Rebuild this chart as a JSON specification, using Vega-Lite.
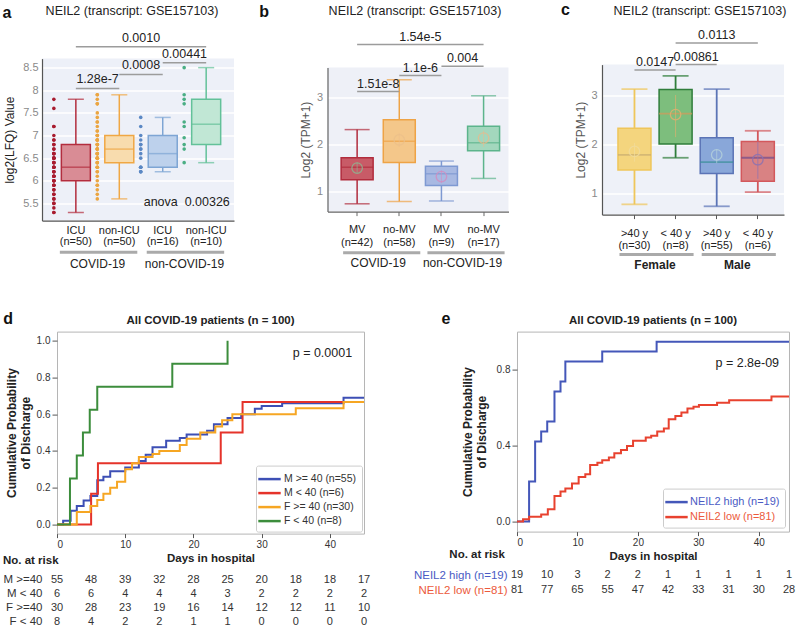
{
"$schema": "https://vega.github.io/schema/vega-lite/v6.json",
"padding": {"left": 2, "top": 1.6, "right": 0, "bottom": 0},
"config": {"font": "Liberation Sans", "view": {"stroke": null}},
"datasets": {
 "a_box": [
  {"cat": "ICU (n=50)", "min": 5.3, "q1": 6.0, "med": 6.3, "q3": 6.8, "max": 7.8},
  {"cat": "non-ICU (n=50)", "min": 5.6, "q1": 6.4, "med": 6.7, "q3": 7.0, "max": 7.9},
  {"cat": "ICU (n=16)", "min": 6.2, "q1": 6.3, "med": 6.6, "q3": 7.0, "max": 7.4},
  {"cat": "non-ICU (n=10)", "min": 6.4, "q1": 6.8, "med": 7.25, "q3": 7.8, "max": 8.5}
 ],
 "a_pts": [
  {"cat":"ICU (n=50)","v":7.8},{"cat":"ICU (n=50)","v":7.6},{"cat":"ICU (n=50)","v":7.2},{"cat":"ICU (n=50)","v":7.2},{"cat":"ICU (n=50)","v":7.0},{"cat":"ICU (n=50)","v":6.9},{"cat":"ICU (n=50)","v":6.9},{"cat":"ICU (n=50)","v":6.8},{"cat":"ICU (n=50)","v":6.8},{"cat":"ICU (n=50)","v":6.7},
  {"cat":"ICU (n=50)","v":6.7},{"cat":"ICU (n=50)","v":6.6},{"cat":"ICU (n=50)","v":6.6},{"cat":"ICU (n=50)","v":6.6},{"cat":"ICU (n=50)","v":6.5},{"cat":"ICU (n=50)","v":6.5},{"cat":"ICU (n=50)","v":6.5},{"cat":"ICU (n=50)","v":6.4},{"cat":"ICU (n=50)","v":6.4},{"cat":"ICU (n=50)","v":6.4},
  {"cat":"ICU (n=50)","v":6.3},{"cat":"ICU (n=50)","v":6.3},{"cat":"ICU (n=50)","v":6.3},{"cat":"ICU (n=50)","v":6.3},{"cat":"ICU (n=50)","v":6.2},{"cat":"ICU (n=50)","v":6.2},{"cat":"ICU (n=50)","v":6.2},{"cat":"ICU (n=50)","v":6.1},{"cat":"ICU (n=50)","v":6.1},{"cat":"ICU (n=50)","v":6.1},
  {"cat":"ICU (n=50)","v":6.1},{"cat":"ICU (n=50)","v":6.0},{"cat":"ICU (n=50)","v":6.0},{"cat":"ICU (n=50)","v":6.0},{"cat":"ICU (n=50)","v":6.0},{"cat":"ICU (n=50)","v":5.9},{"cat":"ICU (n=50)","v":5.9},{"cat":"ICU (n=50)","v":5.9},{"cat":"ICU (n=50)","v":5.8},{"cat":"ICU (n=50)","v":5.8},
  {"cat":"ICU (n=50)","v":5.7},{"cat":"ICU (n=50)","v":5.7},{"cat":"ICU (n=50)","v":5.6},{"cat":"ICU (n=50)","v":5.6},{"cat":"ICU (n=50)","v":5.5},{"cat":"ICU (n=50)","v":5.5},{"cat":"ICU (n=50)","v":5.4},{"cat":"ICU (n=50)","v":5.3},{"cat":"ICU (n=50)","v":5.3},{"cat":"ICU (n=50)","v":6.5},
  {"cat":"non-ICU (n=50)","v":7.9},{"cat":"non-ICU (n=50)","v":7.9},{"cat":"non-ICU (n=50)","v":7.8},{"cat":"non-ICU (n=50)","v":7.7},{"cat":"non-ICU (n=50)","v":7.7},{"cat":"non-ICU (n=50)","v":7.5},{"cat":"non-ICU (n=50)","v":7.4},{"cat":"non-ICU (n=50)","v":7.3},{"cat":"non-ICU (n=50)","v":7.2},{"cat":"non-ICU (n=50)","v":7.1},
  {"cat":"non-ICU (n=50)","v":7.0},{"cat":"non-ICU (n=50)","v":7.0},{"cat":"non-ICU (n=50)","v":7.0},{"cat":"non-ICU (n=50)","v":6.9},{"cat":"non-ICU (n=50)","v":6.9},{"cat":"non-ICU (n=50)","v":6.9},{"cat":"non-ICU (n=50)","v":6.8},{"cat":"non-ICU (n=50)","v":6.8},{"cat":"non-ICU (n=50)","v":6.8},{"cat":"non-ICU (n=50)","v":6.7},
  {"cat":"non-ICU (n=50)","v":6.7},{"cat":"non-ICU (n=50)","v":6.7},{"cat":"non-ICU (n=50)","v":6.7},{"cat":"non-ICU (n=50)","v":6.6},{"cat":"non-ICU (n=50)","v":6.6},{"cat":"non-ICU (n=50)","v":6.6},{"cat":"non-ICU (n=50)","v":6.6},{"cat":"non-ICU (n=50)","v":6.5},{"cat":"non-ICU (n=50)","v":6.5},{"cat":"non-ICU (n=50)","v":6.5},
  {"cat":"non-ICU (n=50)","v":6.4},{"cat":"non-ICU (n=50)","v":6.4},{"cat":"non-ICU (n=50)","v":6.4},{"cat":"non-ICU (n=50)","v":6.3},{"cat":"non-ICU (n=50)","v":6.3},{"cat":"non-ICU (n=50)","v":6.2},{"cat":"non-ICU (n=50)","v":6.2},{"cat":"non-ICU (n=50)","v":6.1},{"cat":"non-ICU (n=50)","v":6.0},{"cat":"non-ICU (n=50)","v":5.9},
  {"cat":"non-ICU (n=50)","v":5.9},{"cat":"non-ICU (n=50)","v":5.8},{"cat":"non-ICU (n=50)","v":5.7},{"cat":"non-ICU (n=50)","v":5.6},{"cat":"non-ICU (n=50)","v":7.1},{"cat":"non-ICU (n=50)","v":7.3},{"cat":"non-ICU (n=50)","v":6.8},{"cat":"non-ICU (n=50)","v":6.5},{"cat":"non-ICU (n=50)","v":6.3},{"cat":"non-ICU (n=50)","v":6.9},
  {"cat":"ICU (n=16)","v":7.4},{"cat":"ICU (n=16)","v":7.2},{"cat":"ICU (n=16)","v":7.0},{"cat":"ICU (n=16)","v":6.8},{"cat":"ICU (n=16)","v":6.8},{"cat":"ICU (n=16)","v":6.7},{"cat":"ICU (n=16)","v":6.7},{"cat":"ICU (n=16)","v":6.6},
  {"cat":"ICU (n=16)","v":6.5},{"cat":"ICU (n=16)","v":6.3},{"cat":"ICU (n=16)","v":6.3},{"cat":"ICU (n=16)","v":6.3},{"cat":"ICU (n=16)","v":6.2},{"cat":"ICU (n=16)","v":6.2},{"cat":"ICU (n=16)","v":6.2},{"cat":"ICU (n=16)","v":6.9},
  {"cat":"non-ICU (n=10)","v":8.5},{"cat":"non-ICU (n=10)","v":7.9},{"cat":"non-ICU (n=10)","v":7.8},{"cat":"non-ICU (n=10)","v":7.7},{"cat":"non-ICU (n=10)","v":7.3},
  {"cat":"non-ICU (n=10)","v":7.2},{"cat":"non-ICU (n=10)","v":6.95},{"cat":"non-ICU (n=10)","v":6.8},{"cat":"non-ICU (n=10)","v":6.7},{"cat":"non-ICU (n=10)","v":6.4}
 ],
 "a_sig": [
  {"from": "ICU (n=50)", "to": "non-ICU (n=50)", "at": "ICU (n=50)", "y": 8.04, "p": "1.28e-7"},
  {"from": "non-ICU (n=50)", "to": "ICU (n=16)", "at": "non-ICU (n=50)", "y": 8.35, "p": "0.0008"},
  {"from": "ICU (n=16)", "to": "non-ICU (n=10)", "at": "ICU (n=16)", "y": 8.61, "p": "0.00441"},
  {"from": "ICU (n=50)", "to": "non-ICU (n=10)", "at": "non-ICU (n=50)", "y": 8.96, "p": "0.0010"}
 ],
 "a_grp": [
  {"g": "COVID-19", "from": "ICU (n=50)", "to": "non-ICU (n=50)"},
  {"g": "non-COVID-19", "from": "ICU (n=16)", "to": "non-ICU (n=10)"}
 ],
 "b_box": [
  {"cat": "MV (n=42)", "min": 0.74, "q1": 1.25, "med": 1.52, "q3": 1.72, "max": 2.32, "mean": 1.5, "lo": 1.4, "hi": 1.62},
  {"cat": "no-MV (n=58)", "min": 0.79, "q1": 1.62, "med": 2.07, "q3": 2.53, "max": 3.38, "mean": 2.1, "lo": 1.95, "hi": 2.25},
  {"cat": "MV (n=9)", "min": 0.8, "q1": 1.13, "med": 1.38, "q3": 1.54, "max": 1.65, "mean": 1.32, "lo": 1.18, "hi": 1.45},
  {"cat": "no-MV (n=17)", "min": 1.28, "q1": 1.87, "med": 2.04, "q3": 2.39, "max": 3.04, "mean": 2.14, "lo": 1.95, "hi": 2.3}
 ],
 "b_sig": [
  {"from": "MV (n=42)", "to": "no-MV (n=58)", "at": "MV (n=42)", "y": 3.13, "p": "1.51e-8"},
  {"from": "no-MV (n=58)", "to": "MV (n=9)", "at": "no-MV (n=58)", "y": 3.47, "p": "1.1e-6"},
  {"from": "MV (n=9)", "to": "no-MV (n=17)", "at": "MV (n=9)", "y": 3.67, "p": "0.004"},
  {"from": "MV (n=42)", "to": "no-MV (n=17)", "at": "no-MV (n=58)", "y": 4.13, "p": "1.54e-5"}
 ],
 "b_grp": [
  {"g": "COVID-19", "from": "MV (n=42)", "to": "no-MV (n=58)"},
  {"g": "non-COVID-19", "from": "MV (n=9)", "to": "no-MV (n=17)"}
 ],
 "c_box": [
  {"cat": ">40 y (n=30)", "min": 0.78, "q1": 1.48, "med": 1.79, "q3": 2.33, "max": 3.13, "mean": 1.86, "lo": 1.65, "hi": 2.03},
  {"cat": "< 40 y (n=8)", "min": 1.73, "q1": 2.01, "med": 2.63, "q3": 3.12, "max": 3.4, "mean": 2.61, "lo": 2.15, "hi": 3.01},
  {"cat": ">40 y (n=55)", "min": 0.74, "q1": 1.41, "med": 1.64, "q3": 2.14, "max": 3.13, "mean": 1.79, "lo": 1.62, "hi": 1.9},
  {"cat": "< 40 y (n=6)", "min": 1.03, "q1": 1.25, "med": 1.73, "q3": 2.06, "max": 2.28, "mean": 1.69, "lo": 1.3, "hi": 2.05}
 ],
 "c_sig": [
  {"from": ">40 y (n=30)", "to": "< 40 y (n=8)", "at": ">40 y (n=30)", "y": 3.52, "p": "0.0147", "span": 1},
  {"from": "< 40 y (n=8)", "to": ">40 y (n=55)", "at": "< 40 y (n=8)", "y": 3.63, "p": "0.00861", "span": 1},
  {"from": "< 40 y (n=8)", "to": "< 40 y (n=6)", "at": ">40 y (n=55)", "y": 4.07, "p": "0.0113", "span": 2}
 ],
 "c_grp": [
  {"g": "Female", "from": ">40 y (n=30)", "to": "< 40 y (n=8)"},
  {"g": "Male", "from": ">40 y (n=55)", "to": "< 40 y (n=6)"}
 ],
 "d_km": [
  {"grp":"M >= 40 (n=55)","day":0,"p":0},{"grp":"M >= 40 (n=55)","day":0.9,"p":0.02},{"grp":"M >= 40 (n=55)","day":2,"p":0.075},{"grp":"M >= 40 (n=55)","day":2.9,"p":0.1},{"grp":"M >= 40 (n=55)","day":3.9,"p":0.13},
  {"grp":"M >= 40 (n=55)","day":4.9,"p":0.155},{"grp":"M >= 40 (n=55)","day":5.9,"p":0.24},{"grp":"M >= 40 (n=55)","day":6.8,"p":0.26},{"grp":"M >= 40 (n=55)","day":7.8,"p":0.29},{"grp":"M >= 40 (n=55)","day":10,"p":0.31},
  {"grp":"M >= 40 (n=55)","day":12,"p":0.345},{"grp":"M >= 40 (n=55)","day":13,"p":0.38},{"grp":"M >= 40 (n=55)","day":14,"p":0.42},{"grp":"M >= 40 (n=55)","day":16,"p":0.455},{"grp":"M >= 40 (n=55)","day":18,"p":0.47},
  {"grp":"M >= 40 (n=55)","day":19,"p":0.49},{"grp":"M >= 40 (n=55)","day":22,"p":0.51},{"grp":"M >= 40 (n=55)","day":23,"p":0.545},{"grp":"M >= 40 (n=55)","day":25,"p":0.58},{"grp":"M >= 40 (n=55)","day":27,"p":0.6},
  {"grp":"M >= 40 (n=55)","day":29,"p":0.63},{"grp":"M >= 40 (n=55)","day":30,"p":0.645},{"grp":"M >= 40 (n=55)","day":33,"p":0.66},{"grp":"M >= 40 (n=55)","day":42,"p":0.69},{"grp":"M >= 40 (n=55)","day":45,"p":0.69},
  {"grp":"M < 40 (n=6)","day":0,"p":0},{"grp":"M < 40 (n=6)","day":5,"p":0.167},{"grp":"M < 40 (n=6)","day":6,"p":0.333},{"grp":"M < 40 (n=6)","day":24,"p":0.5},{"grp":"M < 40 (n=6)","day":27.2,"p":0.667},{"grp":"M < 40 (n=6)","day":45,"p":0.667},
  {"grp":"F >= 40 (n=30)","day":0,"p":0},{"grp":"F >= 40 (n=30)","day":2.9,"p":0.067},{"grp":"F >= 40 (n=30)","day":4.9,"p":0.1},{"grp":"F >= 40 (n=30)","day":5.9,"p":0.133},{"grp":"F >= 40 (n=30)","day":6.8,"p":0.167},
  {"grp":"F >= 40 (n=30)","day":7.8,"p":0.2},{"grp":"F >= 40 (n=30)","day":8.8,"p":0.233},{"grp":"F >= 40 (n=30)","day":10,"p":0.3},{"grp":"F >= 40 (n=30)","day":11,"p":0.333},{"grp":"F >= 40 (n=30)","day":12,"p":0.367},
  {"grp":"F >= 40 (n=30)","day":14,"p":0.383},{"grp":"F >= 40 (n=30)","day":15,"p":0.4},{"grp":"F >= 40 (n=30)","day":18,"p":0.433},{"grp":"F >= 40 (n=30)","day":19,"p":0.467},{"grp":"F >= 40 (n=30)","day":21,"p":0.5},
  {"grp":"F >= 40 (n=30)","day":23.2,"p":0.533},{"grp":"F >= 40 (n=30)","day":24.2,"p":0.567},{"grp":"F >= 40 (n=30)","day":25.7,"p":0.6},{"grp":"F >= 40 (n=30)","day":35,"p":0.633},{"grp":"F >= 40 (n=30)","day":42,"p":0.667},{"grp":"F >= 40 (n=30)","day":45,"p":0.667},
  {"grp":"F < 40 (n=8)","day":0,"p":0},{"grp":"F < 40 (n=8)","day":1.9,"p":0.25},{"grp":"F < 40 (n=8)","day":2.9,"p":0.375},{"grp":"F < 40 (n=8)","day":3.8,"p":0.5},{"grp":"F < 40 (n=8)","day":4.8,"p":0.625},
  {"grp":"F < 40 (n=8)","day":5.9,"p":0.75},{"grp":"F < 40 (n=8)","day":16.9,"p":0.875},{"grp":"F < 40 (n=8)","day":25,"p":1.0}
 ],
 "d_risk": [
  {"grp":"M >=40","day":0,"n":55},{"grp":"M >=40","day":5,"n":48},{"grp":"M >=40","day":10,"n":39},{"grp":"M >=40","day":15,"n":32},{"grp":"M >=40","day":20,"n":28},{"grp":"M >=40","day":25,"n":25},{"grp":"M >=40","day":30,"n":20},{"grp":"M >=40","day":35,"n":18},{"grp":"M >=40","day":40,"n":18},{"grp":"M >=40","day":45,"n":17},
  {"grp":"M < 40","day":0,"n":6},{"grp":"M < 40","day":5,"n":6},{"grp":"M < 40","day":10,"n":4},{"grp":"M < 40","day":15,"n":4},{"grp":"M < 40","day":20,"n":4},{"grp":"M < 40","day":25,"n":3},{"grp":"M < 40","day":30,"n":2},{"grp":"M < 40","day":35,"n":2},{"grp":"M < 40","day":40,"n":2},{"grp":"M < 40","day":45,"n":2},
  {"grp":"F >=40","day":0,"n":30},{"grp":"F >=40","day":5,"n":28},{"grp":"F >=40","day":10,"n":23},{"grp":"F >=40","day":15,"n":19},{"grp":"F >=40","day":20,"n":16},{"grp":"F >=40","day":25,"n":14},{"grp":"F >=40","day":30,"n":12},{"grp":"F >=40","day":35,"n":12},{"grp":"F >=40","day":40,"n":11},{"grp":"F >=40","day":45,"n":10},
  {"grp":"F < 40","day":0,"n":8},{"grp":"F < 40","day":5,"n":4},{"grp":"F < 40","day":10,"n":2},{"grp":"F < 40","day":15,"n":2},{"grp":"F < 40","day":20,"n":1},{"grp":"F < 40","day":25,"n":1},{"grp":"F < 40","day":30,"n":0},{"grp":"F < 40","day":35,"n":0},{"grp":"F < 40","day":40,"n":0},{"grp":"F < 40","day":45,"n":0}
 ],
 "e_km": [
  {"grp":"NEIL2 high (n=19)","day":0,"p":0},{"grp":"NEIL2 high (n=19)","day":2,"p":0.211},{"grp":"NEIL2 high (n=19)","day":3,"p":0.421},{"grp":"NEIL2 high (n=19)","day":4,"p":0.474},{"grp":"NEIL2 high (n=19)","day":5,"p":0.526},
  {"grp":"NEIL2 high (n=19)","day":6.2,"p":0.684},{"grp":"NEIL2 high (n=19)","day":7.2,"p":0.737},{"grp":"NEIL2 high (n=19)","day":8,"p":0.842},{"grp":"NEIL2 high (n=19)","day":14.1,"p":0.895},{"grp":"NEIL2 high (n=19)","day":23.1,"p":0.947},{"grp":"NEIL2 high (n=19)","day":45,"p":0.947},
  {"grp":"NEIL2 low (n=81)","day":0,"p":0},{"grp":"NEIL2 low (n=81)","day":1,"p":0.012},{"grp":"NEIL2 low (n=81)","day":2,"p":0.025},{"grp":"NEIL2 low (n=81)","day":4,"p":0.037},{"grp":"NEIL2 low (n=81)","day":5.1,"p":0.065},
  {"grp":"NEIL2 low (n=81)","day":6.2,"p":0.135},{"grp":"NEIL2 low (n=81)","day":7.2,"p":0.158},{"grp":"NEIL2 low (n=81)","day":8,"p":0.174},{"grp":"NEIL2 low (n=81)","day":9.1,"p":0.2},{"grp":"NEIL2 low (n=81)","day":10.2,"p":0.235},
  {"grp":"NEIL2 low (n=81)","day":11.3,"p":0.249},{"grp":"NEIL2 low (n=81)","day":12.1,"p":0.298},{"grp":"NEIL2 low (n=81)","day":13.3,"p":0.31},{"grp":"NEIL2 low (n=81)","day":14.1,"p":0.323},{"grp":"NEIL2 low (n=81)","day":15.2,"p":0.337},
  {"grp":"NEIL2 low (n=81)","day":16.1,"p":0.36},{"grp":"NEIL2 low (n=81)","day":17.2,"p":0.377},{"grp":"NEIL2 low (n=81)","day":18.2,"p":0.398},{"grp":"NEIL2 low (n=81)","day":19.2,"p":0.425},{"grp":"NEIL2 low (n=81)","day":21.3,"p":0.442},
  {"grp":"NEIL2 low (n=81)","day":22.2,"p":0.452},{"grp":"NEIL2 low (n=81)","day":23.2,"p":0.474},{"grp":"NEIL2 low (n=81)","day":24.3,"p":0.49},{"grp":"NEIL2 low (n=81)","day":25.1,"p":0.539},{"grp":"NEIL2 low (n=81)","day":26.2,"p":0.556},
  {"grp":"NEIL2 low (n=81)","day":27.2,"p":0.574},{"grp":"NEIL2 low (n=81)","day":28.2,"p":0.595},{"grp":"NEIL2 low (n=81)","day":29.2,"p":0.604},{"grp":"NEIL2 low (n=81)","day":30.1,"p":0.614},{"grp":"NEIL2 low (n=81)","day":33.1,"p":0.626},
  {"grp":"NEIL2 low (n=81)","day":35.1,"p":0.639},{"grp":"NEIL2 low (n=81)","day":42.1,"p":0.658},{"grp":"NEIL2 low (n=81)","day":45,"p":0.658}
 ],
 "e_risk": [
  {"grp":"NEIL2 high (n=19)","day":0,"n":19},{"grp":"NEIL2 high (n=19)","day":5,"n":10},{"grp":"NEIL2 high (n=19)","day":10,"n":3},{"grp":"NEIL2 high (n=19)","day":15,"n":2},{"grp":"NEIL2 high (n=19)","day":20,"n":2},{"grp":"NEIL2 high (n=19)","day":25,"n":1},{"grp":"NEIL2 high (n=19)","day":30,"n":1},{"grp":"NEIL2 high (n=19)","day":35,"n":1},{"grp":"NEIL2 high (n=19)","day":40,"n":1},{"grp":"NEIL2 high (n=19)","day":45,"n":1},
  {"grp":"NEIL2 low (n=81)","day":0,"n":81},{"grp":"NEIL2 low (n=81)","day":5,"n":77},{"grp":"NEIL2 low (n=81)","day":10,"n":65},{"grp":"NEIL2 low (n=81)","day":15,"n":55},{"grp":"NEIL2 low (n=81)","day":20,"n":47},{"grp":"NEIL2 low (n=81)","day":25,"n":42},{"grp":"NEIL2 low (n=81)","day":30,"n":33},{"grp":"NEIL2 low (n=81)","day":35,"n":31},{"grp":"NEIL2 low (n=81)","day":40,"n":30},{"grp":"NEIL2 low (n=81)","day":45,"n":28}
 ]
},
"bounds": "full",
"spacing": 38,
"resolve": {"scale": {"color": "independent", "fill": "independent", "stroke": "independent"}},
"vconcat": [
 {"bounds": "flush", "center": true, "spacing": 93.5,
  "resolve": {"scale": {"color": "independent", "fill": "independent", "stroke": "independent"}},
  "hconcat": [
   {
    "width": 192, "height": 162,
    "view": {"fill": "#edf0f8", "stroke": null},
    "title": {"text": "NEIL2 (transcript: GSE157103)", "fontSize": 12.5, "fontWeight": "normal", "color": "#222", "frame": "group", "offset": -12.7, "dx": -6},
    "resolve": {"scale": {"color": "independent"}},
    "layer": [
     {"data": {"name": "a_box"}, "mark": {"type": "rule", "strokeWidth": 1.5},
      "encoding": {
       "x": {"field": "cat", "type": "nominal", "sort": null, "scale": {"domain": ["ICU (n=50)","non-ICU (n=50)","ICU (n=16)","non-ICU (n=10)"], "paddingInner": 0, "paddingOuter": 0.21, "align": 0.665},
             "axis": {"title": null, "labelAngle": 0, "ticks": false, "domainColor": "#555", "domainWidth": 1.2, "labelFontSize": 11, "labelColor": "#222", "labelPadding": 4, "labelLineHeight": 11, "labelExpr": "[slice(datum.label, 0, indexof(datum.label, ' (')), slice(datum.label, indexof(datum.label, ' (') + 1)]"}},
       "y": {"field": "min", "type": "quantitative", "scale": {"domain": [5.12, 8.7], "nice": false, "zero": false},
             "axis": {"title": "log2(LFQ) Value", "values": [5.5,6,6.5,7,7.5,8,8.5], "labelExpr": "replace(format(datum.value, '.1f'), '.0', '')", "labelOverlap": false, "grid": true, "gridColor": "#ffffff", "gridWidth": 1.5, "ticks": false, "domainColor": "#555", "domainWidth": 1.2, "labelColor": "#8a8a8a", "labelFontSize": 11, "labelPadding": 4, "titleFontSize": 12, "titleFontWeight": "normal", "titleColor": "#222", "titlePadding": 6}},
       "y2": {"field": "max"},
       "color": {"field": "cat", "type": "nominal", "scale": {"domain": ["ICU (n=50)","non-ICU (n=50)","ICU (n=16)","non-ICU (n=10)"], "range": ["#b32d3e","#f0a744","#7ea5d4","#63c199"]}, "legend": null}
      }},
     {"data": {"name": "a_box"}, "mark": {"type": "tick", "size": 16, "thickness": 1.5},
      "encoding": {"x": {"field": "cat", "type": "nominal"},
       "y": {"field": "min", "type": "quantitative", "axis": {"title": "log2(LFQ) Value", "values": [5.5,6,6.5,7,7.5,8,8.5], "labelExpr": "replace(format(datum.value, '.1f'), '.0', '')", "labelOverlap": false, "grid": true, "gridColor": "#ffffff", "gridWidth": 1.5, "ticks": false, "domainColor": "#555", "domainWidth": 1.2, "labelColor": "#8a8a8a", "labelFontSize": 11, "labelPadding": 4, "titleFontSize": 12, "titleFontWeight": "normal", "titleColor": "#222", "titlePadding": 6}},
       "color": {"field": "cat", "type": "nominal", "scale": {"domain": ["ICU (n=50)","non-ICU (n=50)","ICU (n=16)","non-ICU (n=10)"], "range": ["#b32d3e","#f0a744","#7ea5d4","#63c199"]}, "legend": null}}},
     {"data": {"name": "a_box"}, "mark": {"type": "tick", "size": 16, "thickness": 1.5},
      "encoding": {"x": {"field": "cat", "type": "nominal"},
       "y": {"field": "max", "type": "quantitative", "axis": {"title": "log2(LFQ) Value", "values": [5.5,6,6.5,7,7.5,8,8.5], "labelExpr": "replace(format(datum.value, '.1f'), '.0', '')", "labelOverlap": false, "grid": true, "gridColor": "#ffffff", "gridWidth": 1.5, "ticks": false, "domainColor": "#555", "domainWidth": 1.2, "labelColor": "#8a8a8a", "labelFontSize": 11, "labelPadding": 4, "titleFontSize": 12, "titleFontWeight": "normal", "titleColor": "#222", "titlePadding": 6}},
       "color": {"field": "cat", "type": "nominal", "scale": {"domain": ["ICU (n=50)","non-ICU (n=50)","ICU (n=16)","non-ICU (n=10)"], "range": ["#b32d3e","#f0a744","#7ea5d4","#63c199"]}, "legend": null}}},
     {"data": {"name": "a_box"}, "mark": {"type": "bar", "width": 29, "strokeWidth": 1.5},
      "encoding": {"x": {"field": "cat", "type": "nominal"},
       "y": {"field": "q1", "type": "quantitative", "axis": {"title": "log2(LFQ) Value", "values": [5.5,6,6.5,7,7.5,8,8.5], "labelExpr": "replace(format(datum.value, '.1f'), '.0', '')", "labelOverlap": false, "grid": true, "gridColor": "#ffffff", "gridWidth": 1.5, "ticks": false, "domainColor": "#555", "domainWidth": 1.2, "labelColor": "#8a8a8a", "labelFontSize": 11, "labelPadding": 4, "titleFontSize": 12, "titleFontWeight": "normal", "titleColor": "#222", "titlePadding": 6}},
       "y2": {"field": "q3"},
       "fill": {"field": "cat", "type": "nominal", "scale": {"domain": ["ICU (n=50)","non-ICU (n=50)","ICU (n=16)","non-ICU (n=10)"], "range": ["#d98c95","#f8dcae","#bdd1ec","#c1e7d5"]}, "legend": null},
       "stroke": {"field": "cat", "type": "nominal", "scale": {"domain": ["ICU (n=50)","non-ICU (n=50)","ICU (n=16)","non-ICU (n=10)"], "range": ["#b32d3e","#f0a744","#7ea5d4","#63c199"]}, "legend": null}}},
     {"data": {"name": "a_box"}, "mark": {"type": "tick", "size": 29, "thickness": 1.5},
      "encoding": {"x": {"field": "cat", "type": "nominal"},
       "y": {"field": "med", "type": "quantitative", "axis": {"title": "log2(LFQ) Value", "values": [5.5,6,6.5,7,7.5,8,8.5], "labelExpr": "replace(format(datum.value, '.1f'), '.0', '')", "labelOverlap": false, "grid": true, "gridColor": "#ffffff", "gridWidth": 1.5, "ticks": false, "domainColor": "#555", "domainWidth": 1.2, "labelColor": "#8a8a8a", "labelFontSize": 11, "labelPadding": 4, "titleFontSize": 12, "titleFontWeight": "normal", "titleColor": "#222", "titlePadding": 6}},
       "color": {"field": "cat", "type": "nominal", "scale": {"domain": ["ICU (n=50)","non-ICU (n=50)","ICU (n=16)","non-ICU (n=10)"], "range": ["#b32d3e","#f0a744","#7ea5d4","#63c199"]}, "legend": null}}},
     {"data": {"name": "a_pts"}, "mark": {"type": "circle", "size": 13, "opacity": 1, "xOffset": -22},
      "encoding": {"x": {"field": "cat", "type": "nominal"},
       "y": {"field": "v", "type": "quantitative", "axis": {"title": "log2(LFQ) Value", "values": [5.5,6,6.5,7,7.5,8,8.5], "labelExpr": "replace(format(datum.value, '.1f'), '.0', '')", "labelOverlap": false, "grid": true, "gridColor": "#ffffff", "gridWidth": 1.5, "ticks": false, "domainColor": "#555", "domainWidth": 1.2, "labelColor": "#8a8a8a", "labelFontSize": 11, "labelPadding": 4, "titleFontSize": 12, "titleFontWeight": "normal", "titleColor": "#222", "titlePadding": 6}},
       "color": {"field": "cat", "type": "nominal", "scale": {"domain": ["ICU (n=50)","non-ICU (n=50)","ICU (n=16)","non-ICU (n=10)"], "range": ["#a81b2e","#eba541","#5b88c4","#4aae84"]}, "legend": null}}},
     {"data": {"name": "a_sig"}, "mark": {"type": "rule", "color": "#9c9c9c", "strokeWidth": 1.5},
      "encoding": {"x": {"field": "from", "type": "nominal"}, "x2": {"field": "to"},
       "y": {"field": "y", "type": "quantitative", "axis": {"title": "log2(LFQ) Value", "values": [5.5,6,6.5,7,7.5,8,8.5], "labelExpr": "replace(format(datum.value, '.1f'), '.0', '')", "labelOverlap": false, "grid": true, "gridColor": "#ffffff", "gridWidth": 1.5, "ticks": false, "domainColor": "#555", "domainWidth": 1.2, "labelColor": "#8a8a8a", "labelFontSize": 11, "labelPadding": 4, "titleFontSize": 12, "titleFontWeight": "normal", "titleColor": "#222", "titlePadding": 6}}}},
     {"data": {"name": "a_sig"}, "mark": {"type": "text", "fontSize": 12.5, "dy": -9, "color": "#222"},
      "encoding": {"x": {"field": "at", "type": "nominal", "bandPosition": 1},
       "y": {"field": "y", "type": "quantitative", "axis": {"title": "log2(LFQ) Value", "values": [5.5,6,6.5,7,7.5,8,8.5], "labelExpr": "replace(format(datum.value, '.1f'), '.0', '')", "labelOverlap": false, "grid": true, "gridColor": "#ffffff", "gridWidth": 1.5, "ticks": false, "domainColor": "#555", "domainWidth": 1.2, "labelColor": "#8a8a8a", "labelFontSize": 11, "labelPadding": 4, "titleFontSize": 12, "titleFontWeight": "normal", "titleColor": "#222", "titlePadding": 6}},
       "text": {"field": "p"}}},
     {"data": {"name": "a_grp"}, "mark": {"type": "rule", "color": "#aaaaaa", "strokeWidth": 3, "xOffset": -16, "x2Offset": 18},
      "encoding": {"x": {"field": "from", "type": "nominal"}, "x2": {"field": "to"},
       "y": {"datum": 4.42, "axis": {"title": "log2(LFQ) Value", "values": [5.5,6,6.5,7,7.5,8,8.5], "labelExpr": "replace(format(datum.value, '.1f'), '.0', '')", "labelOverlap": false, "grid": true, "gridColor": "#ffffff", "gridWidth": 1.5, "ticks": false, "domainColor": "#555", "domainWidth": 1.2, "labelColor": "#8a8a8a", "labelFontSize": 11, "labelPadding": 4, "titleFontSize": 12, "titleFontWeight": "normal", "titleColor": "#222", "titlePadding": 6}}}},
     {"data": {"name": "a_grp"}, "mark": {"type": "text", "fontSize": 12, "color": "#222"},
      "encoding": {"x": {"field": "from", "type": "nominal", "bandPosition": 1},
       "y": {"datum": 4.17, "axis": {"title": "log2(LFQ) Value", "values": [5.5,6,6.5,7,7.5,8,8.5], "labelExpr": "replace(format(datum.value, '.1f'), '.0', '')", "labelOverlap": false, "grid": true, "gridColor": "#ffffff", "gridWidth": 1.5, "ticks": false, "domainColor": "#555", "domainWidth": 1.2, "labelColor": "#8a8a8a", "labelFontSize": 11, "labelPadding": 4, "titleFontSize": 12, "titleFontWeight": "normal", "titleColor": "#222", "titlePadding": 6}},
       "text": {"field": "g"}}},
     {"data": {"values": [{}]}, "mark": {"type": "text", "fontSize": 12.5, "color": "#222", "dx": 24},
      "encoding": {"x": {"datum": "ICU (n=16)", "type": "nominal"},
       "y": {"datum": 5.54, "axis": {"title": "log2(LFQ) Value", "values": [5.5,6,6.5,7,7.5,8,8.5], "labelExpr": "replace(format(datum.value, '.1f'), '.0', '')", "labelOverlap": false, "grid": true, "gridColor": "#ffffff", "gridWidth": 1.5, "ticks": false, "domainColor": "#555", "domainWidth": 1.2, "labelColor": "#8a8a8a", "labelFontSize": 11, "labelPadding": 4, "titleFontSize": 12, "titleFontWeight": "normal", "titleColor": "#222", "titlePadding": 6}},
       "text": {"value": "anova\u00a0\u00a00.00326"}}},
     {"data": {"values": [{}]}, "mark": {"type": "text", "fontSize": 16, "fontWeight": "bold", "color": "#111", "dx": -69},
      "encoding": {"x": {"datum": "ICU (n=50)", "type": "nominal"},
       "y": {"datum": 9.71, "axis": {"title": "log2(LFQ) Value", "values": [5.5,6,6.5,7,7.5,8,8.5], "labelExpr": "replace(format(datum.value, '.1f'), '.0', '')", "labelOverlap": false, "grid": true, "gridColor": "#ffffff", "gridWidth": 1.5, "ticks": false, "domainColor": "#555", "domainWidth": 1.2, "labelColor": "#8a8a8a", "labelFontSize": 11, "labelPadding": 4, "titleFontSize": 12, "titleFontWeight": "normal", "titleColor": "#222", "titlePadding": 6}},
       "text": {"value": "a"}}}
    ]
   },
   {
    "width": 181, "height": 144,
    "view": {"fill": "#eef0f7", "stroke": null},
    "title": {"text": "NEIL2 (transcript: GSE157103)", "fontSize": 12.5, "fontWeight": "normal", "color": "#222", "frame": "group", "offset": -13.9, "dx": -3},
    "resolve": {"scale": {"color": "independent"}},
    "layer": [
     {"data": {"name": "b_box"}, "mark": {"type": "rule", "strokeWidth": 1.5},
      "encoding": {
       "x": {"field": "cat", "type": "nominal", "sort": null, "scale": {"domain": ["MV (n=42)","no-MV (n=58)","MV (n=9)","no-MV (n=17)"], "paddingInner": 0, "paddingOuter": 0.147, "align": 0.69},
             "axis": {"title": null, "labelAngle": 0, "ticks": true, "tickSize": 4, "tickColor": "#666", "domainColor": "#666", "domainWidth": 1.2, "labelFontSize": 11, "labelColor": "#222", "labelPadding": 8, "labelLineHeight": 13, "labelExpr": "[slice(datum.label, 0, indexof(datum.label, ' (')), slice(datum.label, indexof(datum.label, ' (') + 1)]"}},
       "y": {"field": "min", "type": "quantitative", "scale": {"domain": [0.574, 3.64], "nice": false, "zero": false},
             "axis": {"title": "Log2 (TPM+1)", "values": [1,1.5,2,2.5,3], "format": ".1f", "labelExpr": "datum.value % 1 === 0 ? format(datum.value, 'd') : ''", "labelOverlap": false, "grid": true, "gridColor": "#ffffff", "gridWidth": 1.5, "ticks": false, "domainColor": "#666", "domainWidth": 1.2, "labelColor": "#8a8a8a", "labelFontSize": 11, "labelPadding": 5, "titleFontSize": 12, "titleFontWeight": "normal", "titleColor": "#555", "titlePadding": 4}},
       "y2": {"field": "max"},
       "color": {"field": "cat", "type": "nominal", "scale": {"domain": ["MV (n=42)","no-MV (n=58)","MV (n=9)","no-MV (n=17)"], "range": ["#b12c3d","#eea346","#7e99d2","#5cb48c"]}, "legend": null}
      }},
     {"data": {"name": "b_box"}, "mark": {"type": "tick", "size": 25, "thickness": 1.5},
      "encoding": {"x": {"field": "cat", "type": "nominal"}, "y": {"field": "min", "type": "quantitative"},
       "color": {"field": "cat", "type": "nominal", "scale": {"domain": ["MV (n=42)","no-MV (n=58)","MV (n=9)","no-MV (n=17)"], "range": ["#b12c3d","#eea346","#7e99d2","#5cb48c"]}, "legend": null}}},
     {"data": {"name": "b_box"}, "mark": {"type": "tick", "size": 25, "thickness": 1.5},
      "encoding": {"x": {"field": "cat", "type": "nominal"}, "y": {"field": "max", "type": "quantitative"},
       "color": {"field": "cat", "type": "nominal", "scale": {"domain": ["MV (n=42)","no-MV (n=58)","MV (n=9)","no-MV (n=17)"], "range": ["#b12c3d","#eea346","#7e99d2","#5cb48c"]}, "legend": null}}},
     {"data": {"name": "b_box"}, "mark": {"type": "bar", "width": 32, "strokeWidth": 1.5},
      "encoding": {"x": {"field": "cat", "type": "nominal"}, "y": {"field": "q1", "type": "quantitative"}, "y2": {"field": "q3"},
       "fill": {"field": "cat", "type": "nominal", "scale": {"domain": ["MV (n=42)","no-MV (n=58)","MV (n=9)","no-MV (n=17)"], "range": ["#c85b67","#f4c78a","#a8b9e2","#a3d7bd"]}, "legend": null},
       "stroke": {"field": "cat", "type": "nominal", "scale": {"domain": ["MV (n=42)","no-MV (n=58)","MV (n=9)","no-MV (n=17)"], "range": ["#b12c3d","#eea346","#7e99d2","#5cb48c"]}, "legend": null}}},
     {"data": {"name": "b_box"}, "mark": {"type": "tick", "size": 32, "thickness": 1.5},
      "encoding": {"x": {"field": "cat", "type": "nominal"}, "y": {"field": "med", "type": "quantitative"},
       "color": {"field": "cat", "type": "nominal", "scale": {"domain": ["MV (n=42)","no-MV (n=58)","MV (n=9)","no-MV (n=17)"], "range": ["#b12c3d","#eea346","#7e99d2","#5cb48c"]}, "legend": null}}},
     {"data": {"name": "b_box"}, "mark": {"type": "rule", "strokeWidth": 1, "opacity": 0.6},
      "encoding": {"x": {"field": "cat", "type": "nominal"}, "y": {"field": "lo", "type": "quantitative"}, "y2": {"field": "hi"},
       "color": {"field": "cat", "type": "nominal", "scale": {"domain": ["MV (n=42)","no-MV (n=58)","MV (n=9)","no-MV (n=17)"], "range": ["#8db893","#ecc08a","#d38cc0","#e8bc8e"]}, "legend": null}}},
     {"data": {"name": "b_box"}, "mark": {"type": "point", "shape": "circle", "filled": false, "size": 110, "strokeWidth": 1.3, "opacity": 0.8},
      "encoding": {"x": {"field": "cat", "type": "nominal"}, "y": {"field": "mean", "type": "quantitative"},
       "color": {"field": "cat", "type": "nominal", "scale": {"domain": ["MV (n=42)","no-MV (n=58)","MV (n=9)","no-MV (n=17)"], "range": ["#8db893","#ecc08a","#d38cc0","#e8bc8e"]}, "legend": null}}},
     {"data": {"name": "b_sig"}, "mark": {"type": "rule", "color": "#9c9c9c", "strokeWidth": 1.5},
      "encoding": {"x": {"field": "from", "type": "nominal"}, "x2": {"field": "to"}, "y": {"field": "y", "type": "quantitative"}}},
     {"data": {"name": "b_sig"}, "mark": {"type": "text", "fontSize": 12.5, "dy": -8, "color": "#222"},
      "encoding": {"x": {"field": "at", "type": "nominal", "bandPosition": 1}, "y": {"field": "y", "type": "quantitative"}, "text": {"field": "p"}}},
     {"data": {"name": "b_grp"}, "mark": {"type": "rule", "color": "#aaaaaa", "strokeWidth": 3, "xOffset": -14, "x2Offset": 21},
      "encoding": {"x": {"field": "from", "type": "nominal"}, "x2": {"field": "to"}, "y": {"datum": -0.3}}},
     {"data": {"name": "b_grp"}, "mark": {"type": "text", "fontSize": 12, "color": "#222"},
      "encoding": {"x": {"field": "from", "type": "nominal", "bandPosition": 1}, "y": {"datum": -0.51}, "text": {"field": "g"}}},
     {"data": {"values": [{}]}, "mark": {"type": "text", "fontSize": 16, "fontWeight": "bold", "color": "#111", "dx": -93},
      "encoding": {"x": {"datum": "MV (n=42)", "type": "nominal"}, "y": {"datum": 4.83}, "text": {"value": "b"}}}
    ]
   },
   {
    "width": 182, "height": 150,
    "view": {"fill": "#eef1f8", "stroke": null},
    "title": {"text": "NEIL2 (transcript: GSE157103)", "fontSize": 12.5, "fontWeight": "normal", "color": "#222", "frame": "group", "offset": -15.4, "dx": 7},
    "resolve": {"scale": {"color": "independent"}},
    "layer": [
     {"data": {"name": "c_box"}, "mark": {"type": "rule", "strokeWidth": 1.8},
      "encoding": {
       "x": {"field": "cat", "type": "nominal", "sort": null, "scale": {"domain": [">40 y (n=30)","< 40 y (n=8)",">40 y (n=55)","< 40 y (n=6)"], "paddingInner": 0, "paddingOuter": 0.213, "align": 0.68},
             "axis": {"title": null, "labelAngle": 0, "ticks": true, "tickSize": 4, "tickColor": "#555", "domainColor": "#555", "domainWidth": 1.2, "labelFontSize": 11, "labelColor": "#222", "labelPadding": 9, "labelLineHeight": 12, "labelExpr": "[slice(datum.label, 0, indexof(datum.label, ' (')), slice(datum.label, indexof(datum.label, ' (') + 1)]"}},
       "y": {"field": "min", "type": "quantitative", "scale": {"domain": [0.571, 3.63], "nice": false, "zero": false},
             "axis": {"title": "Log2 (TPM+1)", "values": [1,1.5,2,2.5,3], "format": ".1f", "labelExpr": "datum.value % 1 === 0 ? format(datum.value, 'd') : ''", "labelOverlap": false, "grid": true, "gridColor": "#ffffff", "gridWidth": 1.5, "ticks": false, "domainColor": "#555", "domainWidth": 1.2, "labelColor": "#8a8a8a", "labelFontSize": 11, "labelPadding": 5, "titleFontSize": 12, "titleFontWeight": "normal", "titleColor": "#555", "titlePadding": 3}},
       "y2": {"field": "max"},
       "color": {"field": "cat", "type": "nominal", "scale": {"domain": [">40 y (n=30)","< 40 y (n=8)",">40 y (n=55)","< 40 y (n=6)"], "range": ["#efc65a","#2f7d3b","#5b74b6","#d3585c"]}, "legend": null}
      }},
     {"data": {"name": "c_box"}, "mark": {"type": "tick", "size": 26, "thickness": 1.8},
      "encoding": {"x": {"field": "cat", "type": "nominal"}, "y": {"field": "min", "type": "quantitative"},
       "color": {"field": "cat", "type": "nominal", "scale": {"domain": [">40 y (n=30)","< 40 y (n=8)",">40 y (n=55)","< 40 y (n=6)"], "range": ["#efc65a","#2f7d3b","#5b74b6","#d3585c"]}, "legend": null}}},
     {"data": {"name": "c_box"}, "mark": {"type": "tick", "size": 26, "thickness": 1.8},
      "encoding": {"x": {"field": "cat", "type": "nominal"}, "y": {"field": "max", "type": "quantitative"},
       "color": {"field": "cat", "type": "nominal", "scale": {"domain": [">40 y (n=30)","< 40 y (n=8)",">40 y (n=55)","< 40 y (n=6)"], "range": ["#efc65a","#2f7d3b","#5b74b6","#d3585c"]}, "legend": null}}},
     {"data": {"name": "c_box"}, "mark": {"type": "bar", "width": 33, "strokeWidth": 1.5},
      "encoding": {"x": {"field": "cat", "type": "nominal"}, "y": {"field": "q1", "type": "quantitative"}, "y2": {"field": "q3"},
       "fill": {"field": "cat", "type": "nominal", "scale": {"domain": [">40 y (n=30)","< 40 y (n=8)",">40 y (n=55)","< 40 y (n=6)"], "range": ["#f4d57e","#7dbe7d","#89a7d9","#d98283"]}, "legend": null},
       "stroke": {"field": "cat", "type": "nominal", "scale": {"domain": [">40 y (n=30)","< 40 y (n=8)",">40 y (n=55)","< 40 y (n=6)"], "range": ["#efc65a","#2f7d3b","#5b74b6","#d3585c"]}, "legend": null}}},
     {"data": {"name": "c_box"}, "mark": {"type": "tick", "size": 33, "thickness": 1.8},
      "encoding": {"x": {"field": "cat", "type": "nominal"}, "y": {"field": "med", "type": "quantitative"},
       "color": {"field": "cat", "type": "nominal", "scale": {"domain": [">40 y (n=30)","< 40 y (n=8)",">40 y (n=55)","< 40 y (n=6)"], "range": ["#c8ad70","#d4985a","#3b8f99","#6f4a8c"]}, "legend": null}}},
     {"data": {"name": "c_box"}, "mark": {"type": "rule", "strokeWidth": 1, "opacity": 0.7},
      "encoding": {"x": {"field": "cat", "type": "nominal"}, "y": {"field": "lo", "type": "quantitative"}, "y2": {"field": "hi"},
       "color": {"field": "cat", "type": "nominal", "scale": {"domain": [">40 y (n=30)","< 40 y (n=8)",">40 y (n=55)","< 40 y (n=6)"], "range": ["#f1dc9c","#e0b070","#b4d0dc","#8c72b2"]}, "legend": null}}},
     {"data": {"name": "c_box"}, "mark": {"type": "point", "shape": "circle", "filled": false, "size": 110, "strokeWidth": 1.3, "opacity": 0.85},
      "encoding": {"x": {"field": "cat", "type": "nominal"}, "y": {"field": "mean", "type": "quantitative"},
       "color": {"field": "cat", "type": "nominal", "scale": {"domain": [">40 y (n=30)","< 40 y (n=8)",">40 y (n=55)","< 40 y (n=6)"], "range": ["#f1dc9c","#e0b070","#b4d0dc","#8c72b2"]}, "legend": null}}},
     {"data": {"name": "c_sig"}, "mark": {"type": "rule", "color": "#9c9c9c", "strokeWidth": 1.5},
      "encoding": {"x": {"field": "from", "type": "nominal"}, "x2": {"field": "to"}, "y": {"field": "y", "type": "quantitative"}}},
     {"data": {"name": "c_sig"}, "transform": [{"filter": "datum.span == 1"}], "mark": {"type": "text", "fontSize": 12.5, "dy": -8, "color": "#222"},
      "encoding": {"x": {"field": "at", "type": "nominal", "bandPosition": 1}, "y": {"field": "y", "type": "quantitative"}, "text": {"field": "p"}}},
     {"data": {"name": "c_sig"}, "transform": [{"filter": "datum.span == 2"}], "mark": {"type": "text", "fontSize": 12.5, "dy": -8, "color": "#222"},
      "encoding": {"x": {"field": "at", "type": "nominal"}, "y": {"field": "y", "type": "quantitative"}, "text": {"field": "p"}}},
     {"data": {"name": "c_grp"}, "mark": {"type": "rule", "color": "#aaaaaa", "strokeWidth": 3, "xOffset": -15, "x2Offset": 18},
      "encoding": {"x": {"field": "from", "type": "nominal"}, "x2": {"field": "to"}, "y": {"datum": -0.245}}},
     {"data": {"name": "c_grp"}, "mark": {"type": "text", "fontSize": 12, "fontWeight": "bold", "color": "#222"},
      "encoding": {"x": {"field": "from", "type": "nominal", "bandPosition": 1}, "y": {"datum": -0.45}, "text": {"field": "g"}}},
     {"data": {"values": [{}]}, "mark": {"type": "text", "fontSize": 16, "fontWeight": "bold", "color": "#111", "dx": -69},
      "encoding": {"x": {"datum": ">40 y (n=30)", "type": "nominal"}, "y": {"datum": 4.74}, "text": {"value": "c"}}}
    ]
   }
  ]},
 {"bounds": "flush", "spacing": 14,
  "resolve": {"scale": {"color": "independent", "fill": "independent", "stroke": "independent"}},
  "hconcat": [
   {"width": 1, "height": 1, "data": {"values": []}, "mark": "point"},
   {"bounds": "full", "spacing": 42,
    "resolve": {"scale": {"color": "independent", "fill": "independent", "stroke": "independent"}},
    "hconcat": [
     {"bounds": "flush", "spacing": 39, "resolve": {"scale": {"color": "independent"}}, "vconcat": [
      {
       "width": 307, "height": 202,
       "view": {"fill": "white", "stroke": "#b5b5b5"},
       "title": {"text": "All COVID-19 patients (n = 100)", "fontSize": 11.5, "fontWeight": "bold", "color": "#222", "frame": "group", "offset": -16},
       "layer": [
        {"data": {"name": "d_km"}, "mark": {"type": "line", "interpolate": "step-after", "strokeWidth": 2},
         "encoding": {
          "x": {"field": "day", "type": "quantitative", "scale": {"domain": [0, 45], "nice": false},
                "axis": {"title": "Days in hospital", "values": [0,5,10,15,20,25,30,35,40,45], "grid": false, "domain": false, "tickSize": 4, "tickColor": "#555", "labelFontSize": 10, "labelColor": "#333", "labelPadding": 2, "titleFontSize": 11.5, "titleFontWeight": "bold", "titleColor": "#222", "titlePadding": 3}},
          "y": {"field": "p", "type": "quantitative", "scale": {"domain": [-0.05, 1.05], "nice": false, "zero": false},
                "axis": {"title": ["Cumulative Probability", "of Discharge"], "values": [0,0.2,0.4,0.6,0.8,1.0], "format": ".1f", "grid": false, "domain": false, "tickSize": 5, "tickColor": "#555", "labelFontSize": 10, "labelColor": "#333", "labelPadding": 2, "titleFontSize": 12, "titleFontWeight": "bold", "titleColor": "#222", "titlePadding": 4, "titleLineHeight": 14}},
          "color": {"field": "grp", "type": "nominal", "scale": {"domain": ["M >= 40 (n=55)","M < 40 (n=6)","F >= 40 (n=30)","F < 40 (n=8)"], "range": ["#3d4fb5","#e5332a","#f6a623","#3c8d3c"]},
                    "legend": {"title": null, "orient": "bottom-right", "offset": 2, "strokeColor": "#cccccc", "fillColor": "white", "padding": 5, "cornerRadius": 2, "symbolType": "M-1.6,0H1.6", "symbolSize": 196, "symbolStrokeWidth": 2.5, "labelFontSize": 10.5, "labelColor": "#333", "rowPadding": 0, "labelOffset": 6}}
         }},
        {"data": {"values": [{}]}, "mark": {"type": "text", "fontSize": 12.5, "color": "#222"},
         "encoding": {"x": {"datum": 38.9}, "y": {"datum": 0.935}, "text": {"value": "p = 0.0001"}}},
        {"data": {"values": [{}]}, "mark": {"type": "text", "fontSize": 16, "fontWeight": "bold", "color": "#111", "dx": -49},
         "encoding": {"x": {"datum": 0}, "y": {"datum": 1.12}, "text": {"value": "d"}}}
       ]
      },
      {
       "width": 307, "height": 56,
       "data": {"name": "d_risk"},
       "title": {"text": "No. at risk", "anchor": "start", "fontSize": 11.5, "fontWeight": "bold", "color": "#222", "offset": 6.5},
       "mark": {"type": "text", "fontSize": 11, "color": "#333"},
       "encoding": {
        "x": {"field": "day", "type": "quantitative", "scale": {"domain": [0, 45], "nice": false}, "axis": null},
        "y": {"field": "grp", "type": "nominal", "sort": null, "scale": {"domain": ["M >=40","M < 40","F >=40","F < 40"]},
              "axis": {"title": null, "domain": false, "ticks": false, "labelPadding": 15, "labelFontSize": 11.5, "labelColor": "#333"}},
        "text": {"field": "n"}
       }
      }
     ]},
     {"bounds": "flush", "spacing": 36, "resolve": {"scale": {"color": "independent"}}, "vconcat": [
      {
       "width": 272, "height": 200,
       "view": {"fill": "white", "stroke": "#b5b5b5"},
       "title": {"text": "All COVID-19 patients (n = 100)", "fontSize": 11.5, "fontWeight": "bold", "color": "#222", "frame": "group", "offset": -16},
       "layer": [
        {"data": {"name": "e_km"}, "mark": {"type": "line", "interpolate": "step-after", "strokeWidth": 2},
         "encoding": {
          "x": {"field": "day", "type": "quantitative", "scale": {"domain": [0, 45], "nice": false},
                "axis": {"title": "Days in hospital", "values": [0,5,10,15,20,25,30,35,40,45], "grid": false, "domain": false, "tickSize": 4, "tickColor": "#555", "labelFontSize": 10, "labelColor": "#333", "labelPadding": 2, "titleFontSize": 11.5, "titleFontWeight": "bold", "titleColor": "#222", "titlePadding": 3}},
          "y": {"field": "p", "type": "quantitative", "scale": {"domain": [-0.053, 1.0], "nice": false, "zero": false},
                "axis": {"title": ["Cumulative Probability", "of Discharge"], "values": [0,0.2,0.4,0.6,0.8,1.0], "format": ".1f", "grid": false, "domain": false, "tickSize": 5, "tickColor": "#555", "labelFontSize": 10, "labelColor": "#333", "labelPadding": 2, "titleFontSize": 12, "titleFontWeight": "bold", "titleColor": "#222", "titlePadding": 8, "titleLineHeight": 14}},
          "color": {"field": "grp", "type": "nominal", "scale": {"domain": ["NEIL2 high (n=19)","NEIL2 low (n=81)"], "range": ["#4457b9","#e8422f"]},
                    "legend": {"title": null, "orient": "bottom-right", "offset": 4, "strokeColor": "#cccccc", "fillColor": "white", "padding": 5, "cornerRadius": 2, "symbolType": "M-1.6,0H1.6", "symbolSize": 196, "symbolStrokeWidth": 2.5, "labelFontSize": 11, "rowPadding": 1, "labelOffset": 5,
                               "encode": {"labels": {"update": {"fill": {"signal": "datum.value === 'NEIL2 high (n=19)' ? '#4a5bc4' : '#ec5a3c'"}}}}}}
         }},
        {"data": {"values": [{}]}, "mark": {"type": "text", "fontSize": 12.5, "color": "#222"},
         "encoding": {"x": {"datum": 38.1}, "y": {"datum": 0.835}, "text": {"value": "p = 2.8e-09"}}},
        {"data": {"values": [{}]}, "mark": {"type": "text", "fontSize": 16, "fontWeight": "bold", "color": "#111", "dx": -71},
         "encoding": {"x": {"datum": 0}, "y": {"datum": 1.067}, "text": {"value": "e"}}}
       ]
      },
      {
       "width": 272, "height": 30,
       "data": {"name": "e_risk"},
       "title": {"text": "No. at risk", "anchor": "start", "fontSize": 11.5, "fontWeight": "bold", "color": "#222", "offset": 7.5, "dx": 36},
       "mark": {"type": "text", "fontSize": 11, "color": "#333"},
       "encoding": {
        "x": {"field": "day", "type": "quantitative", "scale": {"domain": [0, 45], "nice": false}, "axis": null},
        "y": {"field": "grp", "type": "nominal", "sort": null, "scale": {"domain": ["NEIL2 high (n=19)","NEIL2 low (n=81)"]},
              "axis": {"title": null, "domain": false, "ticks": false, "labelPadding": 10, "labelFontSize": 11.5,
                       "labelColor": {"condition": {"test": "datum.value === 'NEIL2 high (n=19)'", "value": "#4a5bc4"}, "value": "#ec5a3c"}}},
        "text": {"field": "n"}
       }
      }
     ]}
    ]}
  ]}
]
}
